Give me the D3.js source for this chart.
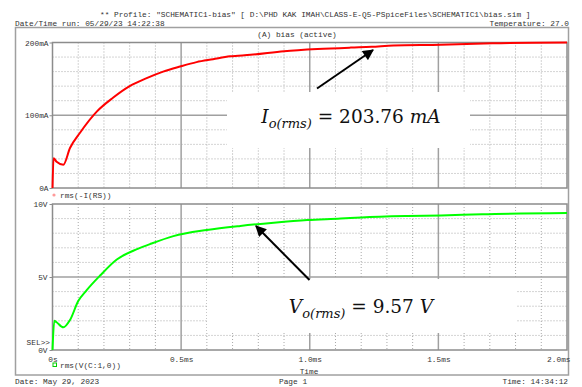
<!DOCTYPE html>
<html>
<head>
<meta charset="utf-8">
<script src="https://cdn.jsdelivr.net/npm/d3@7/dist/d3.min.js"></script>
<style>
  body { margin: 0; background: #fff; }
  .mono { font-family: "Liberation Mono", "DejaVu Sans Mono", monospace; font-size: 7.8px; fill: #333; }
</style>
</head>
<body>
<div id="chart"></div>
<script>
// --- data (time in ms) ---
const currentTime = [0, 0.004, 0.016, 0.042, 0.068, 0.107, 0.172, 0.235, 0.30, 0.366, 0.43, 0.496,
  0.56, 0.624, 0.69, 0.77, 0.90, 1.03, 1.16, 1.24, 1.325, 1.51, 1.71, 2.0];
const currentMA = [0, 41, 36, 32, 55, 76, 105, 124, 140, 151, 160, 167,
  173, 177, 181, 183, 188, 191, 193, 194, 196, 197, 199, 200];

const voltageTime = [0, 0.007, 0.016, 0.042, 0.068, 0.10, 0.133, 0.185, 0.25, 0.314, 0.379, 0.47,
  0.60, 0.73, 0.86, 0.99, 1.12, 1.20, 1.38, 1.51, 1.67, 2.0];
const voltageV = [0, 2.0, 1.9, 1.55, 2.05, 3.35, 4.1, 5.1, 6.2, 6.8, 7.25, 7.8,
  8.22, 8.5, 8.72, 8.9, 9.0, 9.08, 9.18, 9.22, 9.3, 9.38];

const xTicks = [0, 0.5, 1.0, 1.5, 2.0];
const xTickLabels = ["0s", "0.5ms", "1.0ms", "1.5ms", "2.0ms"];
const topTicks = [0, 100, 200];
const topTickLabels = ["0A", "100mA", "200mA"];
const botTicks = [0, 5, 10];
const botTickLabels = ["0V", "5V", "10V"];

const W = 582, H = 387;
const svg = d3.select("#chart").append("svg")
  .attr("width", W).attr("height", H)
  .style("display", "block");

// scales
const x = d3.scaleLinear().domain([0, 2]).range([52.5, 567]);
const yTop = d3.scaleLinear().domain([0, 200]).range([188, 42.5]);
const yBot = d3.scaleLinear().domain([0, 10]).range([350, 204]);

const GRID = "#a8a8a8";
const MAJOR = "#a0a0a0";
const BORDER = "#8c8c8c";

// ── header / footer text ──
svg.append("text").attr("class", "mono").attr("x", 100).attr("y", 17)
  .text('** Profile: "SCHEMATIC1-bias"  [ D:\\PHD KAK IMAH\\CLASS-E-Q5-PSpiceFiles\\SCHEMATIC1\\bias.sim ]');
svg.append("text").attr("class", "mono").attr("x", 15).attr("y", 25.5)
  .text("Date/Time run: 05/29/23 14:22:38");
svg.append("text").attr("class", "mono").attr("x", 569).attr("y", 25.5)
  .attr("text-anchor", "end").text("Temperature: 27.0");
svg.append("text").attr("class", "mono").attr("x", 15).attr("y", 384)
  .text("Date: May 29, 2023");
svg.append("text").attr("class", "mono").attr("x", 279).attr("y", 384)
  .text("Page 1");
svg.append("text").attr("class", "mono").attr("x", 568).attr("y", 384)
  .attr("text-anchor", "end").text("Time: 14:34:12");

// outer frame
svg.append("rect").attr("x", 15.5).attr("y", 27.5).attr("width", 553).attr("height", 347.5)
  .attr("fill", "none").attr("stroke", MAJOR).attr("stroke-width", 1.5);

svg.append("text").attr("class", "mono").attr("x", 297).attr("y", 36.5)
  .attr("text-anchor", "middle").text("(A) bias (active)");

// ── grid helper ──
function drawPanel(yScale, minorStep, yMax, majorStep) {
  const g = svg.append("g");
  const [y0, y1] = yScale.range();
  // minor verticals
  d3.range(0.1, 2, 0.1).filter(v => Math.abs(v / 0.5 - Math.round(v / 0.5)) > 1e-6).forEach(v => {
    g.append("line").attr("x1", x(v)).attr("x2", x(v)).attr("y1", y1).attr("y2", y0)
      .attr("stroke", GRID).attr("stroke-width", 1).attr("stroke-dasharray", "1,2");
  });
  // minor horizontals
  d3.range(minorStep, yMax, minorStep).filter(v => Math.abs(v % majorStep) > 1e-6).forEach(v => {
    g.append("line").attr("x1", x(0)).attr("x2", x(2)).attr("y1", yScale(v)).attr("y2", yScale(v))
      .attr("stroke", GRID).attr("stroke-width", 1).attr("stroke-dasharray", "1,2");
  });
  // major verticals
  [0.5, 1.0, 1.5].forEach(v => {
    g.append("line").attr("x1", x(v)).attr("x2", x(v)).attr("y1", y1).attr("y2", y0)
      .attr("stroke", MAJOR).attr("stroke-width", 1.5);
  });
  // major horizontals
  d3.range(majorStep, yMax, majorStep).forEach(v => {
    g.append("line").attr("x1", x(0)).attr("x2", x(2)).attr("y1", yScale(v)).attr("y2", yScale(v))
      .attr("stroke", MAJOR).attr("stroke-width", 1.5);
  });
  // border
  g.append("rect").attr("x", x(0)).attr("y", y1).attr("width", x(2) - x(0)).attr("height", y0 - y1)
    .attr("fill", "none").attr("stroke", BORDER).attr("stroke-width", 1.5);
  return g;
}

drawPanel(yTop, 20, 200, 100);
drawPanel(yBot, 1, 10, 5);

// white annotation boxes covering the grid
svg.append("rect").attr("x", 227).attr("y", 92).attr("width", 243).attr("height", 56).attr("fill", "#fff");
svg.append("rect").attr("x", 207).attr("y", 279).attr("width", 310).attr("height", 54).attr("fill", "#fff");

// ── axes ──
const axTop = svg.append("g").attr("transform", `translate(${x(0)},0)`)
  .call(d3.axisLeft(yTop).tickValues(topTicks).tickSize(3)
    .tickFormat((d, i) => topTickLabels[i]));
const axBot = svg.append("g").attr("transform", `translate(${x(0)},0)`)
  .call(d3.axisLeft(yBot).tickValues(botTicks).tickSize(3)
    .tickFormat((d, i) => botTickLabels[i]));
const axX = svg.append("g").attr("transform", `translate(0,${yBot(0)})`)
  .call(d3.axisBottom(x).tickValues(xTicks).tickSize(0).tickPadding(6)
    .tickFormat((d, i) => xTickLabels[i]));
[axTop, axBot, axX].forEach(a => {
  a.select(".domain").remove();
  a.selectAll("line").attr("stroke", BORDER);
  a.selectAll("text").attr("class", "mono").attr("font-family", null).attr("font-size", null);
});
axTop.selectAll("text").attr("dx", 2);
axBot.selectAll("text").attr("dx", 1);
axX.selectAll(".tick").filter(d => d === 2).select("text").attr("text-anchor", "end").attr("dx", 3);

svg.append("text").attr("class", "mono").attr("x", 50).attr("y", 345)
  .attr("text-anchor", "end").text("SEL>>");
svg.append("text").attr("class", "mono").attr("x", 309).attr("y", 373.5)
  .attr("text-anchor", "middle").text("Time");

// legends
svg.append("circle").attr("cx", 54).attr("cy", 195).attr("r", 1.6).attr("fill", "#ff9a9a");
svg.append("text").attr("class", "mono").attr("x", 60).attr("y", 198).text("rms(-I(RS))");
svg.append("rect").attr("x", 53).attr("y", 363).attr("width", 3.5).attr("height", 3.5)
  .attr("fill", "none").attr("stroke", "#00d000").attr("stroke-width", 1);
svg.append("text").attr("class", "mono").attr("x", 60).attr("y", 367.5).text("rms(V(C:1,0))");

// ── traces ──
const lineTop = d3.line().curve(d3.curveMonotoneX)
  .x((d, i) => x(currentTime[i])).y(d => yTop(d));
svg.append("path").attr("d", lineTop(currentMA))
  .attr("fill", "none").attr("stroke", "#ff0000").attr("stroke-width", 2).attr("stroke-linejoin", "round");
const lineBot = d3.line().curve(d3.curveMonotoneX)
  .x((d, i) => x(voltageTime[i])).y(d => yBot(d));
svg.append("path").attr("d", lineBot(voltageV))
  .attr("fill", "none").attr("stroke", "#00ff00").attr("stroke-width", 2).attr("stroke-linejoin", "round");

// ── arrows ──
const defs = svg.append("defs");
defs.append("marker").attr("id", "ah").attr("viewBox", "0 0 10 10")
  .attr("refX", 9).attr("refY", 5).attr("markerWidth", 14).attr("markerHeight", 11)
  .attr("markerUnits", "userSpaceOnUse").attr("orient", "auto")
  .append("path").attr("d", "M0,0L10,5L0,10Z").attr("fill", "#000");
svg.append("line").attr("x1", 317).attr("y1", 88.5).attr("x2", 373).attr("y2", 50)
  .attr("stroke", "#000").attr("stroke-width", 2).attr("marker-end", "url(#ah)");
svg.append("line").attr("x1", 309.5).attr("y1", 280).attr("x2", 256).attr("y2", 226)
  .attr("stroke", "#000").attr("stroke-width", 2).attr("marker-end", "url(#ah)");

// ── math annotations ──
function mathLabel(cx, y, sym, value) {
  const t = svg.append("text").attr("x", cx).attr("y", y).attr("text-anchor", "middle")
    .attr("font-family", "'DejaVu Serif', 'Liberation Serif', serif").attr("font-size", 18.5).attr("fill", "#111");
  t.append("tspan").attr("font-style", "italic").text(sym);
  t.append("tspan").attr("font-style", "italic").attr("font-size", 13).attr("dy", 5).text("o(rms)");
  t.append("tspan").attr("dy", -5).text(" = " + value[0] + " ");
  t.append("tspan").attr("font-style", "italic").text(value[1]);
}
mathLabel(351, 123, "I", ["203.76", "mA"]);
mathLabel(361, 313, "V", ["9.57", "V"]);
</script>
</body>
</html>
